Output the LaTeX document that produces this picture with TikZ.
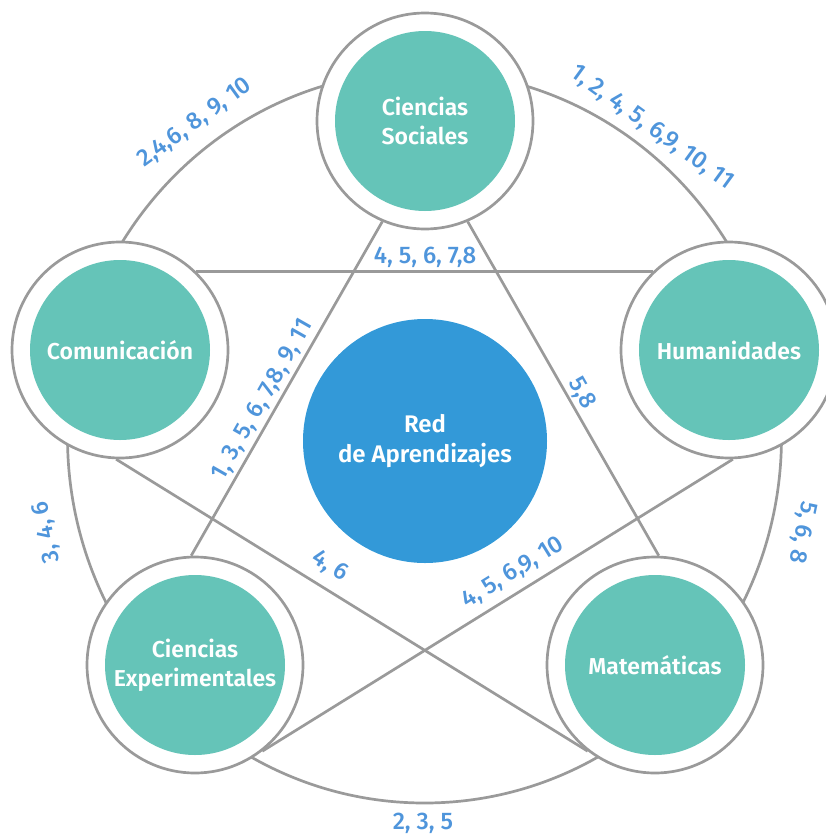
\documentclass[tikz,border=0pt]{standalone}
\usepackage{fontspec}
\setmainfont{Fira Sans}
\newfontfamily\nodefont{Fira Sans SemiBold}
\newfontfamily\labfont{Fira Sans Medium}
\definecolor{tealfill}{HTML}{65C4B8}
\definecolor{centerblue}{HTML}{3399D8}
\definecolor{labblue}{HTML}{4F95DB}
\definecolor{linegray}{HTML}{9A9A9A}
\pgfdeclarelayer{bg}
\pgfsetlayers{bg,main}
\begin{document}
\begin{tikzpicture}[x=1pt,y=-1pt,
  subject/.style={circle, draw=linegray, line width=2.7pt, fill=white,
    minimum size=216pt, inner sep=0pt, align=center, text=white,
    font=\nodefont\fontsize{23}{29}\selectfont,
    path picture={\fill[tealfill] (path picture bounding box.center) circle[radius=90pt];}},
  hub/.style={circle, fill=centerblue, minimum size=244pt, inner sep=0pt,
    align=center, text=white, font=\nodefont\fontsize{24}{30}\selectfont},
  conn/.style={draw=linegray, line width=2.7pt},
  lab/.style={text=labblue, inner sep=0pt, font=\labfont\fontsize{24}{28}\selectfont}
]
\useasboundingbox (0,0) rectangle (826,836);

\node[subject] (cs)  at (425,121) {Ciencias\\Sociales};
\node[subject] (com) at (120,350) {Comunicación};
\node[subject] (hum) at (729,350) {Humanidades};
\node[subject] (ce)  at (195,665) {Ciencias\\Experimentales};
\node[subject] (mat) at (655,665) {Matemáticas};
\node[hub] (red) at (425,441) {Red\\de Aprendizajes};

\begin{pgfonlayer}{bg}
  \coordinate (ctr) at (424.5,437);
  \draw[conn] (ctr) ellipse[x radius=357, y radius=366];
  \draw[conn] (com.46) -- (hum.134);
  \draw[conn] (cs.247) -- (ce.92);
  \draw[conn] (cs.293) -- (mat.88);
  \draw[conn] (com.268) -- (mat.232);
  \draw[conn] (hum.272) -- (ce.308);
\end{pgfonlayer}

\node[lab, rotate=36]   (t1) at (195,123) {2,4,6, 8, 9, 10};
\node[lab, rotate=-36]  (t2) at (652,128) {1, 2, 4, 5, 6,9, 10, 11};
\node[lab]              (t3) at (425,257) {4, 5, 6, 7,8};
\node[lab, rotate=60.4] (t4) at (263,400) {1, 3, 5, 6, 7,8, 9, 11};
\node[lab, rotate=-60.4](t5) at (582,393) {5,8};
\node[lab, rotate=-31.8](t6) at (330,566) {4, 6};
\node[lab, rotate=31.8] (t7) at (513,573) {4, 5, 6,9, 10};
\node[lab, rotate=102]  (t8) at (47,532)  {3, 4, 6};
\node[lab, rotate=-102] (t9) at (802,532) {5, 6, 8};
\node[lab]              (t10) at (423,823) {2, 3, 5};
\end{tikzpicture}
\end{document}
